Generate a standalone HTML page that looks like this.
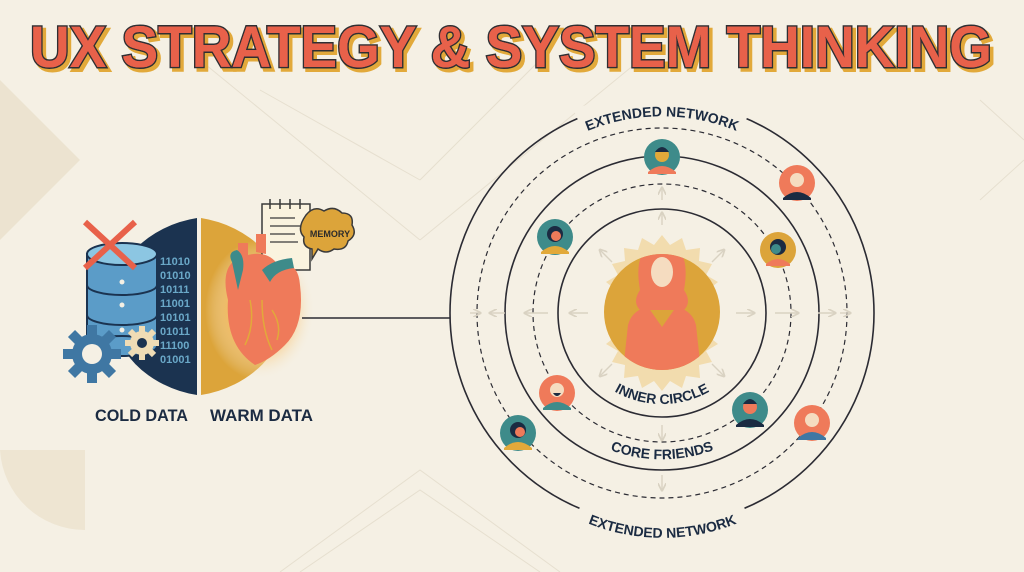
<!DOCTYPE html>
<html><head><meta charset="utf-8"><style>
html,body{margin:0;padding:0;background:#f5f0e4;}
svg{display:block}
text{font-family:"Liberation Sans",sans-serif;font-weight:bold}
</style></head><body>
<svg width="1024" height="572" viewBox="0 0 1024 572" xmlns="http://www.w3.org/2000/svg">
<defs>
<radialGradient id="glow" cx="0.5" cy="0.5" r="0.5"><stop offset="0.6" stop-color="#f7c77a" stop-opacity="0.7"/><stop offset="1" stop-color="#f5f0e4" stop-opacity="0"/></radialGradient>
<marker id="ar" markerWidth="6" markerHeight="6" refX="5" refY="3" orient="auto"><path d="M0,0 L6,3 L0,6" fill="none" stroke="#d9d2c2" stroke-width="1.2"/></marker>
<path id="topArc" d="M 549,152 A 197 197 0 0 1 775,152"/>
<path id="botArc" d="M 580,520 A 200 200 0 0 0 745,520"/>
<path id="innerArc" d="M 612,390 A 96 96 0 0 0 712,390"/>
<path id="coreArc" d="M 605,448 A 150 150 0 0 0 719,448"/>
</defs>
<rect width="1024" height="572" fill="#f5f0e4"/>
<path d="M0,80 L80,160 L0,240 Z" fill="#ece3d0"/>
<path d="M0,450 L85,450 L85,530 A85,85 0 0 1 0,450 Z" fill="#eee5d2"/>
<g stroke="#e6dfcf" stroke-width="1" fill="none">
<path d="M200,60 L420,240 M260,90 L420,180 M420,180 L540,60 M420,240 L640,60 M980,100 L1024,140 M980,200 L1024,160"/>
<path d="M280,572 L420,470 L560,572 M300,572 L420,490 L540,572"/>
</g>
<g font-size="58" text-anchor="middle">
<text x="514" y="70" textLength="962" lengthAdjust="spacingAndGlyphs" fill="#e2a93a" stroke="#e2a93a" stroke-width="4">UX STRATEGY &amp; SYSTEM THINKING</text>
<text x="511" y="67" textLength="962" lengthAdjust="spacingAndGlyphs" fill="#e8614a" stroke="#2f2f33" stroke-width="3" paint-order="stroke">UX STRATEGY &amp; SYSTEM THINKING</text>
<text x="511" y="67" textLength="962" lengthAdjust="spacingAndGlyphs" fill="#e8614a">UX STRATEGY &amp; SYSTEM THINKING</text>
</g>
<path d="M197,218 A105,90 0 0 0 197,395 Z" fill="#1b3350"/>
<path d="M201,218 A105,90 0 0 1 201,395 Z" fill="#dca43a"/>
<ellipse cx="260" cy="310" rx="55" ry="70" fill="url(#glow)"/>
<g font-family="Liberation Mono" font-size="11" fill="#6aa8c8" font-weight="bold">
<text x="160" y="265">11010</text><text x="160" y="279">01010</text><text x="160" y="293">10111</text><text x="160" y="307">11001</text><text x="160" y="321">10101</text><text x="160" y="335">01011</text><text x="160" y="349">11100</text><text x="160" y="363">01001</text>
</g>
<g stroke="#1b3350" stroke-width="2">
<rect x="87" y="254" width="70" height="92" fill="#5b9cc8"/>
<ellipse cx="122" cy="346" rx="35" ry="10" fill="#5b9cc8"/>
<ellipse cx="122" cy="254" rx="35" ry="11" fill="#8cc6e2"/>
<path d="M87,285 A35,10 0 0 0 157,285 M87,315 A35,10 0 0 0 157,315" fill="none"/>
</g>
<circle cx="122" cy="282" r="2.5" fill="#f5f0e4"/><circle cx="122" cy="305" r="2.5" fill="#f5f0e4"/><circle cx="122" cy="330" r="2.5" fill="#f5f0e4"/>
<path d="M85,222 L135,268 M135,222 L85,268" stroke="#e8614a" stroke-width="6"/>
<g fill="#3f77a3"><circle cx="92" cy="354" r="20"/>
<g transform="translate(92,354)"><rect x="-5" y="-29" width="10" height="58"/><rect x="-5" y="-29" width="10" height="58" transform="rotate(45)"/><rect x="-5" y="-29" width="10" height="58" transform="rotate(90)"/><rect x="-5" y="-29" width="10" height="58" transform="rotate(135)"/></g></g>
<circle cx="92" cy="354" r="10" fill="#f5f0e4"/>
<g fill="#efdcb5"><circle cx="142" cy="343" r="12"/>
<g transform="translate(142,343)"><rect x="-3" y="-17" width="6" height="34"/><rect x="-3" y="-17" width="6" height="34" transform="rotate(45)"/><rect x="-3" y="-17" width="6" height="34" transform="rotate(90)"/><rect x="-3" y="-17" width="6" height="34" transform="rotate(135)"/></g></g>
<circle cx="142" cy="343" r="5" fill="#1b3350"/>
<rect x="262" y="204" width="48" height="66" fill="#faf3df" stroke="#3a3a3a" stroke-width="1.5"/>
<path d="M270,199v10 M280,199v10 M290,199v10 M300,199v10" stroke="#3a3a3a" stroke-width="1.5"/>
<path d="M270,218h25 M270,226h30 M270,234h25 M270,242h28" stroke="#3a3a3a" stroke-width="1.2"/>
<path d="M306,215 q8,-10 18,-4 q10,-6 18,2 q12,0 10,12 q6,10 -4,16 q-2,10 -14,8 q-8,6 -16,0 l-6,10 l0,-10 q-10,-2 -8,-12 q-8,-8 2,-22z" fill="#dca43a" stroke="#3a3a3a" stroke-width="1.5"/>
<text x="330" y="237" font-size="9" fill="#2b2b2b" text-anchor="middle">MEMORY</text>
<path d="M228,300 q-10,-40 20,-45 q20,-5 30,10 q20,-5 22,20 q5,40 -15,60 q-15,15 -30,20 q-30,-20 -27,-65z" fill="#ef7a5a"/>
<path d="M238,258 l0,-15 l10,0 l0,20 M256,252 l0,-18 l10,0 l0,20" fill="#ef7a5a"/>
<path d="M232,262 q-5,-10 5,-12 q8,5 6,20 l-5,20z" fill="#3e8b8a"/>
<path d="M262,270 q10,-10 30,-12 l2,10 q-18,2 -24,14z" fill="#3e8b8a"/>
<path d="M250,300 q5,25 -5,45 M262,300 q0,30 10,50 M272,310 q10,15 5,30" stroke="#e2a93a" stroke-width="1.5" fill="none"/>
<text x="95" y="421" font-size="17" fill="#1b2b42" textLength="93" lengthAdjust="spacingAndGlyphs">COLD DATA</text>
<text x="210" y="421" font-size="17" fill="#1b2b42" textLength="103" lengthAdjust="spacingAndGlyphs">WARM DATA</text>
<line x1="302" y1="318" x2="450" y2="318" stroke="#2b2b33" stroke-width="1.5"/>
<g fill="none" stroke="#2b2b33" stroke-width="1.6">
<circle cx="662" cy="313" r="212"/>
<circle cx="662" cy="313" r="185" stroke-dasharray="5 4" stroke-width="1.2"/>
<circle cx="662" cy="313" r="157"/>
<circle cx="662" cy="313" r="129" stroke-dasharray="5 4" stroke-width="1.2"/>
<circle cx="662" cy="313" r="104"/>
</g>
<path d="M578,120 A212 212 0 0 1 746,120" stroke="#f5f0e4" stroke-width="22" fill="none"/>
<path d="M580,507 A212 212 0 0 0 744,507" stroke="#f5f0e4" stroke-width="22" fill="none"/>
<text font-size="14" fill="#1b2b42"><textPath href="#topArc" startOffset="50%" text-anchor="middle">EXTENDED NETWORK</textPath></text>
<text font-size="14" fill="#1b2b42"><textPath href="#botArc" startOffset="50%" text-anchor="middle">EXTENDED NETWORK</textPath></text>
<text font-size="14" fill="#1b2b42"><textPath href="#innerArc" startOffset="50%" text-anchor="middle">INNER CIRCLE</textPath></text>
<text font-size="14" fill="#1b2b42"><textPath href="#coreArc" startOffset="50%" text-anchor="middle">CORE FRIENDS</textPath></text>
<g stroke="#d9d2c2" stroke-width="1.4" marker-end="url(#ar)">
<line x1="588" y1="313" x2="570" y2="313"/><line x1="548" y1="313" x2="525" y2="313"/><line x1="505" y1="313" x2="490" y2="313"/><line x1="470" y1="313" x2="480" y2="313"/>
<line x1="736" y1="313" x2="754" y2="313"/><line x1="775" y1="313" x2="798" y2="313"/><line x1="818" y1="313" x2="835" y2="313"/><line x1="840" y1="313" x2="850" y2="313"/>
<line x1="662" y1="225" x2="662" y2="213"/><line x1="662" y1="200" x2="662" y2="188"/>
<line x1="662" y1="425" x2="662" y2="440"/><line x1="662" y1="475" x2="662" y2="490"/>
<line x1="612" y1="262" x2="600" y2="250"/><line x1="712" y1="262" x2="724" y2="250"/><line x1="612" y1="364" x2="600" y2="376"/><line x1="712" y1="364" x2="724" y2="376"/>
</g>
<polygon fill="#f2dcae" points="662,235 670,245 682,238 686,250 700,248 699,261 712,264 706,275 718,282 708,290 716,300 712,313 716,326 708,336 718,344 706,351 712,362 699,365 700,378 686,376 682,388 670,381 662,391 654,381 642,388 638,376 624,378 625,365 612,362 618,351 606,344 616,336 608,326 612,313 608,300 616,290 606,282 618,275 612,264 625,261 624,248 638,250 642,238 654,245"/>
<circle cx="662" cy="312" r="58" fill="#dca43a"/>
<clipPath id="cc"><circle cx="662" cy="312" r="58"/></clipPath>
<g clip-path="url(#cc)">
<path d="M640,290 q-8,-45 22,-48 q30,3 22,48 q8,12 0,20 l-44,0 q-8,-8 0,-20z" fill="#ef7a5a"/>
<ellipse cx="662" cy="272" rx="11" ry="15" fill="#f5dcc0"/>
<path d="M622,380 l6,-55 q4,-15 20,-18 l14,20 l14,-20 q16,3 20,18 l6,55z" fill="#ef7a5a"/>
</g>
<g>
<circle cx="662" cy="157" r="18" fill="#3e8b8a"/><path d="M648,172 q14,-12 28,0 v2 h-28z" fill="#ef7a5a"/><circle cx="662" cy="155" r="7" fill="#e2a93a"/><path d="M655,152 q7,-10 14,0z" fill="#1b2b42"/>
<circle cx="797" cy="183" r="18" fill="#ef7a5a"/><path d="M783,198 q14,-12 28,0 v2 h-28z" fill="#1b2b42"/><circle cx="797" cy="180" r="7" fill="#f5dcc0"/>
<circle cx="555" cy="237" r="18" fill="#3e8b8a"/><path d="M541,252 q14,-12 28,0 v2 h-28z" fill="#e2a93a"/><circle cx="555" cy="234" r="8" fill="#1b2b42"/><circle cx="556" cy="236" r="5" fill="#ef7a5a"/>
<circle cx="778" cy="250" r="18" fill="#dca43a"/><path d="M766,264 q12,-10 24,0 v2 h-24z" fill="#ef7a5a"/><circle cx="778" cy="247" r="8" fill="#1b2b42"/><circle cx="776" cy="249" r="5" fill="#3e8b8a"/>
<circle cx="557" cy="393" r="18" fill="#ef7a5a"/><path d="M543,408 q14,-12 28,0 v2 h-28z" fill="#3e8b8a"/><circle cx="557" cy="390" r="7" fill="#f5dcc0"/><path d="M553,393 q4,6 8,0z" fill="#1b2b42"/>
<circle cx="750" cy="410" r="18" fill="#3e8b8a"/><path d="M736,425 q14,-12 28,0 v2 h-28z" fill="#1b2b42"/><circle cx="750" cy="407" r="7" fill="#ef7a5a"/><path d="M743,404 q7,-10 14,0z" fill="#1b2b42"/>
<circle cx="518" cy="433" r="18" fill="#3e8b8a"/><path d="M504,448 q14,-12 28,0 v2 h-28z" fill="#e2a93a"/><circle cx="518" cy="430" r="8" fill="#1b2b42"/><circle cx="520" cy="432" r="5" fill="#ef7a5a"/>
<circle cx="812" cy="423" r="18" fill="#ef7a5a"/><path d="M798,438 q14,-12 28,0 v2 h-28z" fill="#3f77a3"/><circle cx="812" cy="420" r="7" fill="#f5dcc0"/>
</g>
</svg>
</body></html>
